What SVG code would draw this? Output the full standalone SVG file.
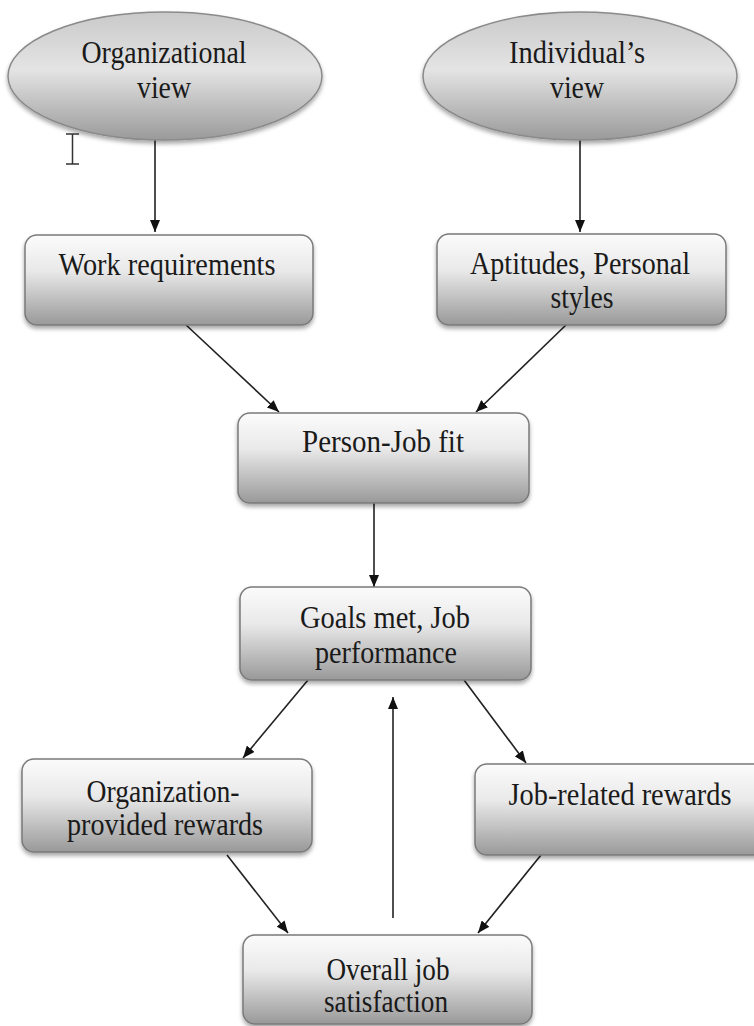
<svg xmlns="http://www.w3.org/2000/svg" width="754" height="1026" viewBox="0 0 754 1026">
<defs>
<linearGradient id="boxg" x1="0" y1="0" x2="0" y2="1">
<stop offset="0" stop-color="#fbfbfb"/>
<stop offset="0.4" stop-color="#e9e9e9"/>
<stop offset="1" stop-color="#999999"/>
</linearGradient>
<linearGradient id="ellg" x1="0" y1="0" x2="0" y2="1">
<stop offset="0" stop-color="#c9c9c9"/>
<stop offset="0.45" stop-color="#e4e4e4"/>
<stop offset="1" stop-color="#9a9a9a"/>
</linearGradient>
<filter id="sh" x="-10%" y="-10%" width="120%" height="130%">
<feDropShadow dx="0" dy="3" stdDeviation="2" flood-color="#000" flood-opacity="0.35"/>
</filter>
<marker id="ah" markerWidth="12" markerHeight="10" refX="12" refY="5" orient="auto" markerUnits="userSpaceOnUse">
<path d="M0,0 L12,5 L0,10 Z" fill="#111"/>
</marker>
</defs>
<style>
.box{fill:url(#boxg);stroke:#7a7a7a;stroke-width:1.5;filter:url(#sh)}
.ell{fill:url(#ellg);stroke:#8a8a8a;stroke-width:1.5;filter:url(#sh)}
.t{font-family:"Liberation Serif","Times New Roman",serif;font-size:31px;fill:#1a1a1a;text-anchor:middle}
.c{stroke:#222;stroke-width:1.6;fill:none;marker-end:url(#ah)}
</style>
<rect width="754" height="1026" fill="#ffffff"/>
<g id="connectors">
<line class="c" x1="155" y1="140" x2="155" y2="232"/>
<line class="c" x1="580" y1="140" x2="580" y2="232"/>
<line class="c" x1="185" y1="324" x2="279" y2="412"/>
<line class="c" x1="567" y1="324" x2="476" y2="412"/>
<line class="c" x1="374" y1="503" x2="374" y2="587"/>
<line class="c" x1="308" y1="680" x2="243" y2="758"/>
<line class="c" x1="464" y1="680" x2="526" y2="763"/>
<line class="c" x1="393" y1="918" x2="393" y2="697"/>
<line class="c" x1="227" y1="855" x2="288" y2="933"/>
<line class="c" x1="541" y1="855" x2="478" y2="933"/>
</g>
<g id="org-view">
<ellipse class="ell" cx="165" cy="76" rx="157" ry="64"/>
<text class="t" x="164" y="63" textLength="165" lengthAdjust="spacingAndGlyphs">Organizational</text>
<text class="t" x="164" y="98" textLength="54" lengthAdjust="spacingAndGlyphs">view</text>
</g>
<g id="ind-view">
<ellipse class="ell" cx="580" cy="76" rx="157" ry="64"/>
<text class="t" x="577" y="63" textLength="136" lengthAdjust="spacingAndGlyphs">Individual’s</text>
<text class="t" x="577" y="98" textLength="54" lengthAdjust="spacingAndGlyphs">view</text>
</g>
<g id="cursor">
<path d="M66,134 H79 M72.5,134 V164 M66,164 H79" stroke="#333" stroke-width="1.5" fill="none"/>
</g>
<g id="work-req">
<rect class="box" x="25" y="235" width="288" height="90" rx="12"/>
<text class="t" x="167" y="275" textLength="217" lengthAdjust="spacingAndGlyphs">Work requirements</text>
</g>
<g id="aptitudes">
<rect class="box" x="437" y="234" width="289" height="91" rx="12"/>
<text class="t" x="580" y="274" textLength="220" lengthAdjust="spacingAndGlyphs">Aptitudes, Personal</text>
<text class="t" x="582" y="308" textLength="63" lengthAdjust="spacingAndGlyphs">styles</text>
</g>
<g id="person-job">
<rect class="box" x="238" y="413" width="291" height="90" rx="12"/>
<text class="t" x="383" y="452" textLength="162" lengthAdjust="spacingAndGlyphs">Person-Job fit</text>
</g>
<g id="goals">
<rect class="box" x="240" y="587" width="291" height="93" rx="12"/>
<text class="t" x="385" y="628" textLength="170" lengthAdjust="spacingAndGlyphs">Goals met, Job</text>
<text class="t" x="386" y="663" textLength="142" lengthAdjust="spacingAndGlyphs">performance</text>
</g>
<g id="org-rewards">
<rect class="box" x="22" y="759" width="290" height="93" rx="12"/>
<text class="t" x="163" y="802" textLength="153" lengthAdjust="spacingAndGlyphs">Organization-</text>
<text class="t" x="165" y="835" textLength="196" lengthAdjust="spacingAndGlyphs">provided rewards</text>
</g>
<g id="job-rewards">
<rect class="box" x="475" y="764" width="292" height="91" rx="12"/>
<text class="t" x="620" y="805" textLength="223" lengthAdjust="spacingAndGlyphs">Job-related rewards</text>
</g>
<g id="overall">
<rect class="box" x="243" y="935" width="289" height="89" rx="12"/>
<text class="t" x="388" y="980" textLength="123" lengthAdjust="spacingAndGlyphs">Overall job</text>
<text class="t" x="386" y="1012" textLength="124" lengthAdjust="spacingAndGlyphs">satisfaction</text>
</g>
</svg>
